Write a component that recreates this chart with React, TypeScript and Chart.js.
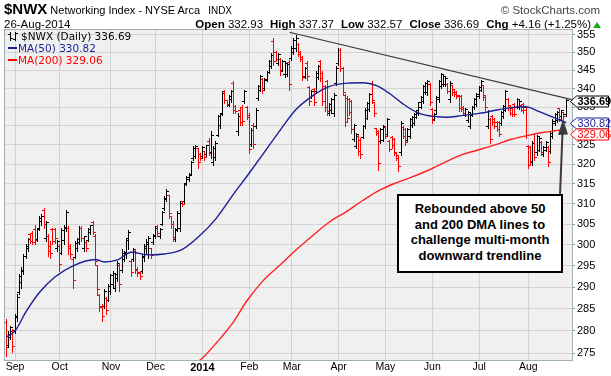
import React, { useEffect, useRef } from 'react';
import { Chart, registerables } from 'chart.js';

Chart.register(...registerables);

const SYMBOL = '$NWX';
const TITLE = 'Networking Index - NYSE Arca';
const EXCHANGE = 'INDX';
const DATE_LABEL = '26-Aug-2014';
const NOTE_LINES = ['Rebounded above 50', 'and 200 DMA lines to', 'challenge multi-month', 'downward trendline'];

const MONTH_TICKS = [4, 24, 47, 67, 88, 109, 128, 149, 170, 191, 212, 234];
const MONTH_LABELS = ['Sep', 'Oct', 'Nov', 'Dec', '2014', 'Feb', 'Mar', 'Apr', 'May', 'Jun', 'Jul', 'Aug'];
const PRICE_TICKS = [275, 280, 285, 290, 295, 300, 305, 310, 315, 320, 325, 330, 335, 340, 345, 350, 355];

const HIGH = [
  282.7, 279.9, 281.2, 280.4, 283.8, 288.4, 293.0, 294.6, 297.7, 300.1,
  301.7, 302.9, 303.3, 304.9, 304.1, 307.0, 307.4, 309.0, 305.7, 302.5,
  300.9, 304.1, 304.1, 301.2, 300.1, 304.1, 304.9, 308.6, 304.5, 300.1,
  296.9, 300.9, 301.7, 304.5, 304.5, 302.2, 300.9, 304.1, 304.9, 305.7,
  302.5, 295.3, 288.4, 286.1, 289.5, 287.6, 290.7, 293.0, 293.8, 293.4,
  296.1, 295.7, 298.9, 298.5, 301.7, 303.7, 296.5, 299.3, 299.0, 294.6,
  293.8, 297.7, 300.1, 301.3, 302.1, 299.3, 302.5, 304.5, 304.9, 304.1,
  308.2, 311.9, 313.6, 312.3, 307.0, 305.7, 304.1, 308.2, 310.7, 310.7,
  315.2, 316.9, 317.7, 320.8, 324.6, 325.1, 324.2, 322.9, 324.6, 323.5,
  325.1, 326.8, 328.6, 324.6, 326.0, 333.0, 333.4, 339.3, 339.7, 337.0,
  338.3, 339.7, 342.0, 335.6, 333.4, 334.8, 335.6, 339.7, 335.2, 333.4,
  329.4, 330.8, 334.8, 341.1, 343.8, 342.8, 342.8, 344.7, 347.9, 349.8,
  354.1, 350.3, 349.8, 348.4, 347.9, 347.5, 347.0, 347.9, 351.7, 354.2,
  355.0, 352.6, 350.3, 348.9, 346.0, 347.5, 340.6, 339.7, 340.2, 344.7,
  346.5, 347.9, 344.7, 341.1, 342.4, 336.1, 337.5, 338.8, 346.1, 351.2,
  351.2, 346.0, 338.5, 337.9, 337.4, 337.0, 330.5, 328.1, 327.7, 326.8,
  330.3, 334.8, 336.5, 338.8, 342.0, 336.5, 329.4, 329.0, 329.4, 330.3,
  329.9, 332.1, 326.4, 327.3, 326.8, 322.9, 322.5, 331.2, 329.9, 329.4,
  329.4, 332.1, 332.5, 333.4, 334.3, 336.5, 338.0, 341.1, 341.8, 342.4,
  341.5, 334.8, 333.4, 338.0, 342.4, 344.2, 343.8, 343.3, 341.5, 342.0,
  341.1, 340.0, 339.3, 338.3, 338.3, 335.2, 334.8, 334.0, 333.4, 335.2,
  337.5, 338.8, 340.6, 342.4, 341.1, 338.3, 334.3, 332.1, 333.0, 332.1,
  331.2, 331.2, 333.9, 335.6, 339.7, 337.4, 335.6, 334.8, 336.1, 337.4,
  337.0, 335.6, 336.0, 335.2, 325.1, 324.6, 325.9, 328.1, 327.7, 327.3,
  326.0, 324.6, 325.9, 324.6, 328.6, 331.7, 333.4, 334.0, 334.8, 334.3,
  333.8, 337.37,
];

const LOW = [
  274.5, 276.4, 278.2, 275.3, 279.6, 282.3, 288.4, 289.9, 293.0, 296.9,
  298.5, 300.5, 300.1, 300.1, 300.9, 303.7, 304.9, 304.1, 300.9, 297.3,
  296.9, 300.1, 300.5, 298.5, 293.8, 297.7, 300.1, 303.3, 297.7, 296.9,
  289.9, 296.9, 298.5, 300.1, 300.9, 298.5, 298.5, 300.9, 302.5, 302.5,
  295.3, 288.4, 284.6, 282.3, 285.3, 283.8, 286.9, 288.4, 289.9, 289.1,
  291.5, 289.1, 293.5, 296.1, 296.9, 298.9, 292.6, 296.1, 293.4, 292.6,
  291.9, 293.4, 296.1, 297.7, 296.9, 296.9, 300.1, 301.7, 302.1, 301.7,
  304.9, 308.6, 310.7, 306.6, 304.1, 300.9, 300.9, 303.3, 303.3, 309.4,
  310.3, 314.8, 315.7, 317.3, 321.2, 321.6, 319.1, 321.2, 321.6, 321.2,
  322.0, 322.5, 321.6, 319.9, 321.2, 327.3, 329.4, 333.0, 336.1, 335.2,
  335.2, 336.5, 333.4, 333.4, 327.7, 330.3, 330.3, 336.1, 331.7, 322.9,
  324.6, 324.2, 329.4, 337.0, 339.3, 338.8, 339.7, 342.0, 344.2, 345.6,
  346.5, 347.5, 346.5, 343.8, 344.7, 343.3, 343.5, 339.7, 347.9, 349.5,
  350.3, 348.9, 347.5, 342.4, 342.8, 342.4, 335.6, 337.4, 335.6, 338.8,
  342.5, 342.0, 335.6, 333.9, 333.0, 333.0, 333.5, 332.6, 341.1, 346.5,
  344.7, 338.3, 329.9, 331.2, 333.0, 328.1, 326.0, 324.2, 322.5, 321.6,
  326.8, 329.4, 331.7, 333.9, 336.1, 332.6, 327.7, 318.6, 325.5, 325.9,
  326.8, 327.3, 323.3, 324.2, 322.5, 321.2, 318.2, 322.5, 326.8, 325.1,
  325.9, 326.8, 329.8, 330.3, 332.1, 333.0, 334.8, 336.1, 338.5, 338.3,
  335.6, 330.8, 331.5, 333.5, 336.5, 340.2, 340.6, 340.6, 338.8, 336.5,
  338.3, 338.0, 337.4, 333.9, 333.9, 333.0, 332.6, 331.0, 329.4, 332.6,
  334.5, 335.2, 337.4, 339.3, 337.0, 334.3, 329.4, 325.5, 330.3, 329.4,
  328.6, 327.3, 330.3, 332.1, 333.9, 334.3, 333.0, 332.6, 332.6, 334.8,
  334.5, 333.9, 333.5, 326.8, 319.1, 319.9, 319.9, 321.2, 322.5, 323.3,
  322.5, 322.0, 323.3, 319.5, 322.9, 326.8, 330.3, 331.0, 331.2, 332.1,
  331.6, 332.57,
];

const OPEN = [
  282.0, 276.8, 278.6, 279.8, 280.0, 283.0, 288.8, 291.0, 293.6, 297.2,
  299.0, 302.4, 302.8, 303.6, 301.2, 304.0, 305.6, 308.4, 301.6, 302.0,
  299.6, 303.6, 303.6, 299.0, 299.5, 298.0, 301.0, 304.0, 304.0, 299.5,
  296.5, 297.0, 299.0, 300.5, 304.0, 299.0, 300.5, 301.0, 303.0, 305.4,
  302.0, 295.0, 288.0, 285.5, 285.5, 287.4, 287.0, 289.0, 290.5, 289.6,
  292.0, 295.0, 294.0, 296.5, 298.0, 301.5, 296.0, 296.5, 298.5, 294.2,
  293.5, 293.6, 297.0, 299.0, 300.0, 299.0, 300.5, 302.2, 304.5, 302.0,
  305.0, 308.8, 311.0, 312.0, 306.8, 305.0, 301.2, 303.5, 304.0, 310.5,
  310.5, 315.0, 316.0, 317.5, 321.5, 322.0, 324.0, 322.6, 322.0, 323.2,
  322.4, 326.0, 323.0, 320.5, 321.8, 327.5, 330.0, 333.2, 339.2, 336.8,
  335.5, 337.0, 341.5, 335.2, 328.4, 334.2, 335.0, 336.5, 334.8, 332.8,
  325.0, 330.2, 329.8, 337.4, 339.6, 342.4, 340.0, 342.2, 344.5, 346.0,
  353.0, 350.0, 346.8, 348.0, 345.0, 343.8, 343.8, 347.2, 348.2, 350.0,
  351.0, 352.2, 350.0, 348.5, 343.0, 347.0, 340.2, 337.6, 339.8, 339.2,
  343.0, 347.4, 344.0, 340.5, 341.8, 333.4, 334.0, 333.2, 341.5, 347.0,
  350.5, 345.5, 338.0, 337.2, 337.0, 336.4, 326.5, 324.6, 327.2, 326.2,
  327.0, 329.8, 332.0, 334.3, 341.5, 336.2, 329.2, 328.6, 325.8, 326.2,
  329.6, 327.6, 326.0, 327.0, 326.4, 322.7, 322.2, 323.0, 329.6, 329.0,
  326.2, 327.2, 330.0, 330.6, 332.3, 333.3, 335.0, 336.5, 339.0, 338.8,
  341.0, 334.4, 331.8, 334.0, 337.0, 340.6, 341.0, 341.0, 341.2, 337.0,
  340.8, 339.8, 339.0, 338.0, 337.8, 335.0, 332.8, 331.4, 329.8, 332.8,
  334.8, 335.6, 337.8, 339.6, 340.8, 338.0, 329.8, 331.6, 332.6, 331.8,
  331.0, 330.8, 330.6, 332.4, 334.2, 337.0, 335.3, 334.5, 335.8, 335.0,
  334.8, 335.4, 335.8, 334.8, 324.6, 324.2, 320.4, 327.6, 323.0, 323.6,
  325.6, 322.4, 323.6, 324.2, 323.2, 327.2, 330.6, 331.4, 334.5, 332.4,
  333.5, 332.93,
];

const CLOSE = [
  276.2, 279.2, 280.7, 276.6, 283.2, 287.6, 292.4, 294.0, 297.1, 299.6,
  301.3, 300.9, 300.6, 301.0, 303.8, 306.5, 307.0, 305.0, 305.3, 298.4,
  297.8, 300.8, 301.4, 300.8, 295.2, 303.5, 304.2, 307.9, 299.0, 297.6,
  291.5, 300.2, 301.2, 304.0, 301.6, 301.9, 299.2, 303.6, 304.6, 303.0,
  296.0, 289.5, 285.4, 283.2, 289.0, 284.6, 290.2, 292.6, 293.2, 292.9,
  295.5, 290.5, 298.0, 298.2, 301.0, 303.0, 293.5, 298.8, 294.0, 293.2,
  292.4, 297.2, 299.5, 300.6, 301.4, 297.5, 302.0, 304.0, 302.8, 303.6,
  307.8, 311.4, 313.0, 307.5, 305.0, 301.8, 303.6, 307.6, 310.0, 309.8,
  314.8, 316.5, 317.2, 320.4, 324.0, 324.5, 320.5, 321.5, 324.2, 321.8,
  324.8, 322.8, 327.5, 324.0, 325.4, 332.5, 333.0, 338.6, 336.8, 335.6,
  337.9, 339.2, 334.2, 333.8, 332.6, 331.0, 331.2, 339.2, 332.2, 323.8,
  328.8, 325.0, 334.2, 340.6, 343.2, 339.4, 342.4, 344.3, 347.5, 349.2,
  347.4, 348.0, 349.3, 344.6, 347.4, 347.0, 346.6, 341.0, 351.2, 353.4,
  353.8, 349.5, 348.0, 343.4, 345.5, 343.2, 336.4, 339.3, 336.2, 344.0,
  346.0, 342.8, 336.6, 334.8, 333.8, 335.7, 337.0, 338.2, 345.6, 350.6,
  345.5, 339.0, 331.0, 332.0, 333.6, 329.0, 330.0, 327.6, 323.2, 322.4,
  329.9, 334.2, 336.0, 338.3, 336.8, 333.2, 328.0, 320.2, 329.0, 329.8,
  327.3, 331.6, 323.8, 324.8, 323.0, 321.5, 319.4, 330.6, 327.2, 325.6,
  329.0, 331.6, 332.2, 333.0, 334.0, 336.2, 337.6, 340.6, 341.4, 342.0,
  336.2, 331.4, 333.0, 337.5, 342.0, 343.8, 343.3, 342.8, 339.2, 341.4,
  338.8, 338.4, 337.8, 334.5, 334.4, 333.4, 334.4, 333.6, 333.0, 334.8,
  337.0, 338.4, 340.2, 342.0, 337.6, 334.8, 333.8, 326.4, 330.8, 329.8,
  329.0, 327.8, 333.5, 335.2, 339.2, 334.8, 333.4, 333.0, 333.0, 337.0,
  336.6, 334.2, 334.0, 327.4, 319.8, 320.6, 325.4, 321.8, 327.2, 326.8,
  323.0, 324.2, 325.5, 320.4, 328.0, 331.2, 333.0, 333.6, 331.8, 334.0,
  332.53, 336.69,
];

const MA50_X = [0, 4, 9, 15, 22, 30, 40, 44, 50, 56, 64, 71, 79, 86, 94, 102, 108, 115, 123, 130, 138, 145, 153, 160, 166, 172, 178, 184, 190, 197, 204, 212, 220, 228, 233, 238, 243, 247, 251];
const MA50_Y = [278.6, 280.0, 284.4, 288.8, 292.4, 295.0, 296.5, 295.9, 296.4, 298.2, 297.6, 297.8, 298.9, 301.8, 306.3, 312.5, 317.0, 322.5, 329.0, 334.4, 338.3, 340.6, 341.5, 341.6, 340.8, 338.6, 335.8, 333.6, 332.6, 332.3, 332.7, 333.3, 334.2, 335.0, 335.1, 334.0, 332.8, 331.8, 330.82];
const MA200_X = [84, 88, 94, 102, 108, 115, 123, 130, 138, 145, 152, 160, 167, 174, 182, 189, 197, 204, 211, 219, 226, 234, 241, 246, 251];
const MA200_Y = [272.5, 274.0, 277.2, 282.1, 286.9, 291.4, 295.3, 298.8, 302.5, 305.6, 307.9, 310.9, 313.3, 315.1, 316.8, 318.4, 320.6, 322.4, 323.6, 325.0, 326.4, 327.5, 328.3, 328.7, 329.06];
const TREND_X = [127, 253.5];
const TREND_Y = [355.7, 337.0];

const FF = '"Liberation Sans", Arial, Helvetica, sans-serif';
const FV = '"DejaVu Sans", Verdana, sans-serif';
const NAVY = '#1b1f96';
const RED = '#ff0000';

const LAST = CLOSE.length - 1;
const CHG = CLOSE[LAST] - CLOSE[LAST - 1];
const CHG_PCT = (CHG / CLOSE[LAST - 1]) * 100;

function tickImage(color: string, side: 'L' | 'R') {
  const c = document.createElement('canvas');
  c.width = 5;
  c.height = 1;
  const g = c.getContext('2d')!;
  g.fillStyle = color;
  g.fillRect(side === 'L' ? 0 : 3, 0, 2, 1);
  return c;
}

const snapPlugin = {
  id: 'pixelSnap',
  afterDatasetsUpdate(chart: any) {
    chart.data.datasets.forEach((ds: any, di: number) => {
      const meta = chart.getDatasetMeta(di);
      if (ds.label === 'HL') {
        meta.data.forEach((el: any) => {
          el.x = Math.floor(el.x) + 0.5;
          el.y = Math.round(el.y);
          el.base = Math.round(el.base) + 1;
        });
      } else if (ds.label === 'Open' || ds.label === 'Close') {
        meta.data.forEach((el: any) => {
          el.x = Math.floor(el.x) + 0.5;
          el.y = Math.floor(el.y) + 0.5;
        });
      }
    });
  },
};

const framePlugin = {
  id: 'plotFrame',
  beforeDraw(chart: any) {
    const { ctx, chartArea: a } = chart;
    ctx.save();
    ctx.fillStyle = '#f0f0f0';
    ctx.fillRect(a.left, a.top, a.right - a.left, a.bottom - a.top);
    ctx.restore();
  },
  afterDatasetsDraw(chart: any) {
    const { ctx, chartArea: a } = chart;
    ctx.save();
    ctx.strokeStyle = '#9fb0b0';
    ctx.lineWidth = 1;
    ctx.strokeRect(a.left - 0.5, a.top - 0.5, a.right - a.left + 1, a.bottom - a.top + 1);
    ctx.restore();
  },
};

const lastLabelPlugin = {
  id: 'lastLabels',
  afterDraw(chart: any) {
    const { ctx, chartArea: a } = chart;
    const y = chart.scales.y;
    const items = [
      { v: CLOSE[LAST], color: '#000', bold: true },
      { v: MA50_Y[MA50_Y.length - 1], color: NAVY, bold: false },
      { v: MA200_Y[MA200_Y.length - 1], color: RED, bold: false },
    ];
    const h = 11;
    let prevBottom = -Infinity;
    ctx.save();
    items.forEach((it) => {
      let cy = Math.round(y.getPixelForValue(it.v)) + 0.5;
      if (cy - h / 2 < prevBottom) cy = prevBottom + h / 2;
      prevBottom = cy + h / 2;
      const x0 = a.right - 1.5;
      const x1 = x0 + 6;
      const x2 = 608.5;
      ctx.beginPath();
      ctx.moveTo(x0, cy);
      ctx.lineTo(x1, cy - h / 2);
      ctx.lineTo(x2, cy - h / 2);
      ctx.lineTo(x2, cy + h / 2);
      ctx.lineTo(x1, cy + h / 2);
      ctx.closePath();
      ctx.fillStyle = '#fff';
      ctx.fill();
      ctx.strokeStyle = it.color;
      ctx.lineWidth = 1;
      ctx.stroke();
      ctx.fillStyle = it.color;
      ctx.font = (it.bold ? 'bold ' : '') + '11px ' + FF;
      ctx.textBaseline = 'middle';
      ctx.textAlign = 'left';
      ctx.fillText(it.v.toFixed(2), x1 + 1, cy + 0.5);
    });
    ctx.restore();
  },
};

export default function App() {
  const canvasRef = useRef<HTMLCanvasElement>(null);

  useEffect(() => {
    const canvas = canvasRef.current!;
    const idx = CLOSE.map((_, i) => i);
    const up = idx.map((i) => CLOSE[i] >= OPEN[i]);
    const openBlack = tickImage('#000', 'L');
    const openRed = tickImage(RED, 'L');
    const closeBlack = tickImage('#000', 'R');
    const closeRed = tickImage(RED, 'R');

    const chart = new Chart(canvas, {
      type: 'bar',
      data: {
        datasets: [
          {
            type: 'line',
            label: 'Trend',
            data: TREND_X.map((x, k) => ({ x, y: TREND_Y[k] })),
            borderColor: '#3a3a3a',
            borderWidth: 1.2,
            pointRadius: 0,
            order: 0,
            clip: 0,
          } as any,
          {
            type: 'line',
            label: 'MA(50)',
            data: MA50_X.map((x, k) => ({ x, y: MA50_Y[k] })),
            borderColor: NAVY,
            borderWidth: 1.4,
            pointRadius: 0,
            cubicInterpolationMode: 'monotone',
            order: 1,
            clip: 0,
          } as any,
          {
            type: 'line',
            label: 'MA(200)',
            data: MA200_X.map((x, k) => ({ x, y: MA200_Y[k] })),
            borderColor: '#ff2020',
            borderWidth: 1.4,
            pointRadius: 0,
            cubicInterpolationMode: 'monotone',
            order: 1,
            clip: 0,
          } as any,
          {
            type: 'bar',
            label: 'HL',
            data: idx.map((i) => ({ x: i, y: [LOW[i], HIGH[i]] })),
            backgroundColor: up.map((u) => (u ? '#000' : RED)),
            barThickness: 1,
            maxBarThickness: 1,
            borderWidth: 0,
            inflateAmount: 0,
            order: 2,
            clip: 0,
          } as any,
          {
            type: 'scatter',
            label: 'Open',
            data: idx.map((i) => ({ x: i, y: OPEN[i] })),
            pointStyle: up.map((u) => (u ? openBlack : openRed)),
            pointRadius: 2,
            order: 2,
            clip: 0,
          } as any,
          {
            type: 'scatter',
            label: 'Close',
            data: idx.map((i) => ({ x: i, y: CLOSE[i] })),
            pointStyle: up.map((u) => (u ? closeBlack : closeRed)),
            pointRadius: 2,
            order: 2,
            clip: 0,
          } as any,
        ],
      },
      options: {
        responsive: false,
        animation: false,
        devicePixelRatio: 1,
        events: [],
        layout: { padding: { left: 5, top: 30, right: 0, bottom: 0 } },
        plugins: { legend: { display: false }, tooltip: { enabled: false } },
        scales: {
          x: {
            type: 'linear',
            min: -0.5,
            max: 253.6,
            offset: false,
            afterBuildTicks: (s: any) => {
              s.ticks = MONTH_TICKS.map((v) => ({ value: v }));
            },
            afterFit: (s: any) => {
              s.height = 16;
            },
            ticks: {
              autoSkip: false,
              maxRotation: 0,
              padding: 1,
              color: '#000',
              font: (c: any) =>
                c.tick && c.tick.value === 88
                  ? { size: 11, weight: 'bold', family: FF }
                  : { size: 10.5, family: FF },
              callback: (v: any) => {
                const k = MONTH_TICKS.indexOf(Number(v));
                return k >= 0 ? MONTH_LABELS[k] : '';
              },
            },
            grid: { color: '#d3d3d3', offset: false, drawTicks: false, tickLength: 0 },
            border: { display: false },
          },
          y: {
            type: 'logarithmic',
            position: 'right',
            min: 273.55,
            max: 356.34,
            beginAtZero: false,
            afterBuildTicks: (s: any) => {
              s.ticks = PRICE_TICKS.map((v) => ({ value: v }));
            },
            afterFit: (s: any) => {
              s.width = 39;
            },
            ticks: {
              autoSkip: false,
              padding: 2,
              color: '#000',
              font: { size: 11, family: FF },
              callback: (v: any) => String(v),
            },
            grid: { color: '#d3d3d3', tickColor: '#8fa0a0', tickLength: 3, drawTicks: true },
            border: { display: false },
          },
        },
      } as any,
      plugins: [framePlugin, snapPlugin, lastLabelPlugin],
    });
    return () => chart.destroy();
  }, []);

  const sumGap = { marginLeft: 7 };
  return (
    <div
      style={{
        position: 'absolute',
        left: 0,
        top: 0,
        width: 611,
        height: 376,
        background: '#fff',
        overflow: 'hidden',
        fontFamily: FF,
        color: '#000',
      }}
    >
      <canvas
        ref={canvasRef}
        width={611}
        height={376}
        style={{ position: 'absolute', left: 0, top: 0, width: 611, height: 376 }}
      />
      {/* header row 1 */}
      <div
        style={{
          position: 'absolute',
          left: 4,
          top: 0,
          whiteSpace: 'nowrap',
          display: 'flex',
          alignItems: 'baseline',
          lineHeight: '17px',
        }}
      >
        <span style={{ fontWeight: 'bold', fontSize: 15 }}>{SYMBOL}</span>
        <span style={{ fontSize: 11, marginLeft: 3 }}>{TITLE}</span>
        <span style={{ fontSize: 10, marginLeft: 8 }}>{EXCHANGE}</span>
      </div>
      <div
        style={{
          position: 'absolute',
          right: 11,
          top: 3,
          fontSize: 11.5,
          color: '#444',
          whiteSpace: 'nowrap',
          lineHeight: '14px',
        }}
      >
        © StockCharts.com
      </div>
      {/* header row 2 */}
      <div style={{ position: 'absolute', left: 4, top: 17, fontSize: 11.5, lineHeight: '14px', whiteSpace: 'nowrap' }}>
        {DATE_LABEL}
      </div>
      <div
        style={{
          position: 'absolute',
          right: 20,
          top: 17,
          fontSize: 11.5,
          lineHeight: '14px',
          whiteSpace: 'nowrap',
        }}
      >
        <b>Open</b> {OPEN[LAST].toFixed(2)}
        <span style={sumGap}>
          <b>High</b> {HIGH[LAST].toFixed(2)}
        </span>
        <span style={sumGap}>
          <b>Low</b> {LOW[LAST].toFixed(2)}
        </span>
        <span style={sumGap}>
          <b>Close</b> {CLOSE[LAST].toFixed(2)}
        </span>
        <span style={sumGap}>
          <b>Chg</b> {(CHG >= 0 ? '+' : '') + CHG.toFixed(2)} ({(CHG >= 0 ? '+' : '') + CHG_PCT.toFixed(2)}%)
        </span>
      </div>
      <div
        style={{
          position: 'absolute',
          left: 593,
          top: 22,
          width: 0,
          height: 0,
          borderLeft: '4px solid transparent',
          borderRight: '4px solid transparent',
          borderBottom: '6px solid #1fa51f',
        }}
      />
      {/* legend inside plot */}
      <div style={{ position: 'absolute', left: 8, top: 30, fontFamily: FV, fontSize: 10.5, lineHeight: '12px', whiteSpace: 'nowrap' }}>
        <div style={{ display: 'flex', alignItems: 'center', height: 12 }}>
          <svg width="10" height="11" style={{ marginRight: 3 }}>
            <line x1="2.5" y1="1" x2="2.5" y2="10" stroke="#000" strokeWidth="1" />
            <line x1="0" y1="3.5" x2="2.5" y2="3.5" stroke="#000" strokeWidth="1" />
            <line x1="2.5" y1="7.5" x2="5" y2="7.5" stroke="#000" strokeWidth="1" />
            <line x1="7.5" y1="1" x2="7.5" y2="10" stroke="#000" strokeWidth="1" />
            <line x1="5" y1="8.5" x2="7.5" y2="8.5" stroke="#000" strokeWidth="1" />
            <line x1="7.5" y1="2.5" x2="10" y2="2.5" stroke="#000" strokeWidth="1" />
          </svg>
          <span>
            {SYMBOL} (Daily) {CLOSE[LAST].toFixed(2)}
          </span>
        </div>
        <div style={{ display: 'flex', alignItems: 'center', height: 12, color: NAVY }}>
          <span style={{ display: 'inline-block', width: 9, height: 2, background: NAVY, marginRight: 1 }} />
          <span>MA(50) {MA50_Y[MA50_Y.length - 1].toFixed(2)}</span>
        </div>
        <div style={{ display: 'flex', alignItems: 'center', height: 12, color: RED }}>
          <span style={{ display: 'inline-block', width: 9, height: 2, background: RED, marginRight: 1 }} />
          <span>MA(200) {MA200_Y[MA200_Y.length - 1].toFixed(2)}</span>
        </div>
      </div>
      {/* annotation */}
      <svg width="611" height="376" style={{ position: 'absolute', left: 0, top: 0, pointerEvents: 'none' }}>
        <line x1="560" y1="195" x2="562.5" y2="133" stroke="#3c3c3c" strokeWidth="2" />
        <polygon points="563,119 558,135 568,134.5" fill="#3c3c3c" />
      </svg>
      <div
        style={{
          position: 'absolute',
          left: 397,
          top: 194,
          width: 166,
          height: 79,
          boxSizing: 'border-box',
          border: '2px solid #000',
          background: '#fff',
          textAlign: 'center',
          fontWeight: 'bold',
          fontSize: 13,
          lineHeight: '15.6px',
          paddingTop: 5,
          whiteSpace: 'nowrap',
        }}
      >
        {NOTE_LINES.map((t) => (
          <div key={t}>{t}</div>
        ))}
      </div>
    </div>
  );
}
